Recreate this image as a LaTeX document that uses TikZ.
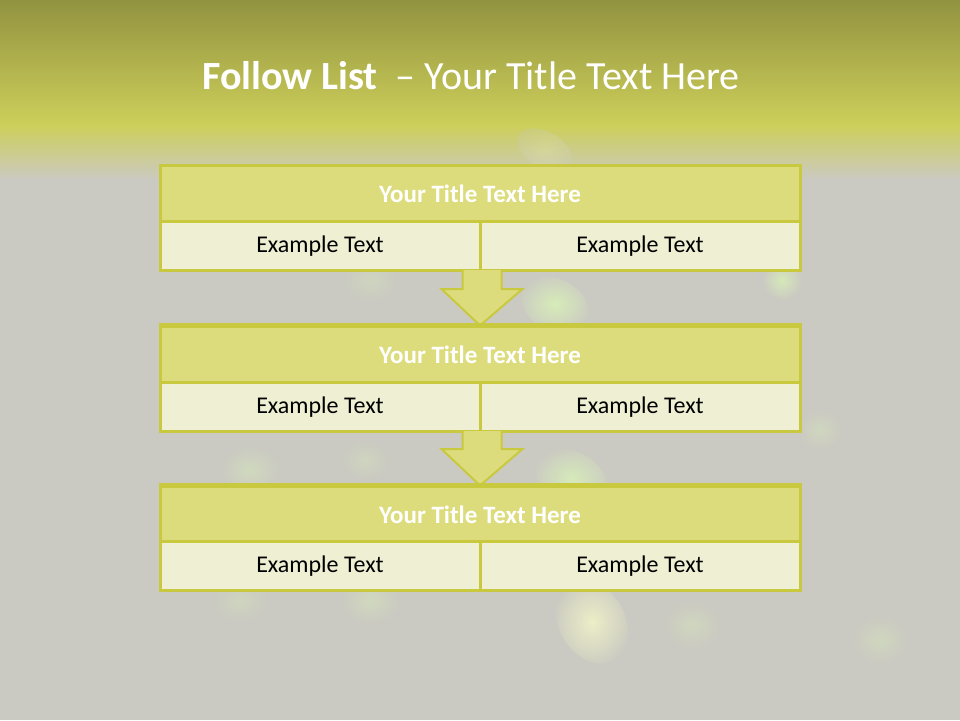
\documentclass[tikz,border=0pt]{standalone}
\usepackage{fontspec}
\setmainfont{Carlito}
\usetikzlibrary{calc}
\definecolor{bggray}{HTML}{CBCAC2}
\definecolor{olivetop}{HTML}{929340}
\definecolor{olivemid}{HTML}{CDCF5A}
\definecolor{bordercol}{HTML}{C9C93F}
\definecolor{titlefill}{HTML}{DCDC7C}
\definecolor{exfill}{HTML}{EFF0D3}
\definecolor{blobgreen}{HTML}{D8F0B8}
\definecolor{blobyellow}{HTML}{EEF0C8}
\tikzset{
  titlecell/.style={draw=bordercol, line width=3pt, fill=titlefill, minimum width=640pt, minimum height=57pt, inner sep=0pt, text=white, font=\fontsize{25}{28}\selectfont\bfseries},
  excell/.style={draw=bordercol, line width=3pt, fill=exfill, minimum width=320pt, minimum height=49pt, inner sep=0pt, text=black, font=\fontsize{24}{27}\selectfont},
  downarrow/.style={draw=bordercol, line width=2pt, fill=titlefill, line join=miter},
  blob/.style={inner color=#1, outer color=bggray}
}
\begin{document}
\begin{tikzpicture}[x=1pt,y=-1pt]
\useasboundingbox (0,0) rectangle (960,720);
% background
\fill[bggray] (0,0) rectangle (960,720);
\shade[top color=olivetop, bottom color=olivemid] (0,0) rectangle (960,125);
\shade[top color=olivemid, bottom color=bggray] (0,125) rectangle (960,180);
% soft blobs
\shade[blob=blobgreen, opacity=0.9] (555,305) ellipse [x radius=36pt, y radius=26pt, rotate=-30];
\shade[blob=blobyellow, opacity=0.25] (545,150) ellipse [x radius=30pt, y radius=18pt, rotate=-30];
\shade[blob=blobgreen, opacity=0.8] (782,280) ellipse [x radius=20pt, y radius=20pt];
\shade[blob=blobgreen, opacity=0.85] (572,480) ellipse [x radius=38pt, y radius=28pt, rotate=-30];
\shade[blob=blobyellow, opacity=0.95] (592,622) ellipse [x radius=44pt, y radius=33pt, rotate=-60];
\shade[blob=blobgreen, opacity=0.4] (250,470) ellipse [x radius=30pt, y radius=24pt];
\shade[blob=blobgreen, opacity=0.4] (370,600) ellipse [x radius=30pt, y radius=24pt];
\shade[blob=blobgreen, opacity=0.35] (692,625) ellipse [x radius=28pt, y radius=24pt];
\shade[blob=blobgreen, opacity=0.35] (880,640) ellipse [x radius=28pt, y radius=24pt];
\shade[blob=blobgreen, opacity=0.35] (820,430) ellipse [x radius=22pt, y radius=20pt];
\shade[blob=blobgreen, opacity=0.3] (240,600) ellipse [x radius=28pt, y radius=22pt];
\shade[blob=blobgreen, opacity=0.3] (370,280) ellipse [x radius=28pt, y radius=22pt];
\shade[blob=blobgreen, opacity=0.3] (365,460) ellipse [x radius=24pt, y radius=20pt];
% title
\node[text=white, font=\fontsize{40}{46}\selectfont, anchor=base west, inner sep=0pt] (title) at (202,89) {\textbf{Follow List}\ \ – Your Title Text Here};
% boxes
\node[titlecell] (t1) at (480,193.5) {Your Title Text Here};
\node[excell] (e1a) at (320,246) {Example Text};
\node[excell] (e1b) at (640,246) {Example Text};
\node[titlecell] (t2) at (480,354.5) {Your Title Text Here};
\node[excell] (e2a) at (320,407) {Example Text};
\node[excell] (e2b) at (640,407) {Example Text};
\node[titlecell] (t3) at (480,514.5) {Your Title Text Here};
\node[excell] (e3a) at (320,566) {Example Text};
\node[excell] (e3b) at (640,566) {Example Text};
% arrows
\draw[downarrow] ($(e1a.south east)+(-19,-2)$) -- ($(e1a.south east)+(-19,17)$) -- ($(e1a.south east)+(-40,17)$) -- ($(t2.north)+(0,1)$) -- ($(e1a.south east)+(41,17)$) -- ($(e1a.south east)+(20,17)$) -- ($(e1a.south east)+(20,-2)$);
\draw[downarrow] ($(e2a.south east)+(-19,-2)$) -- ($(e2a.south east)+(-19,16)$) -- ($(e2a.south east)+(-40,16)$) -- ($(t3.north)+(0,1)$) -- ($(e2a.south east)+(41,16)$) -- ($(e2a.south east)+(20,16)$) -- ($(e2a.south east)+(20,-2)$);
\draw[bordercol, line width=3pt] (t2.north west) -- (t2.north east);
\draw[bordercol, line width=3pt] (t3.north west) -- (t3.north east);
\end{tikzpicture}
\end{document}
